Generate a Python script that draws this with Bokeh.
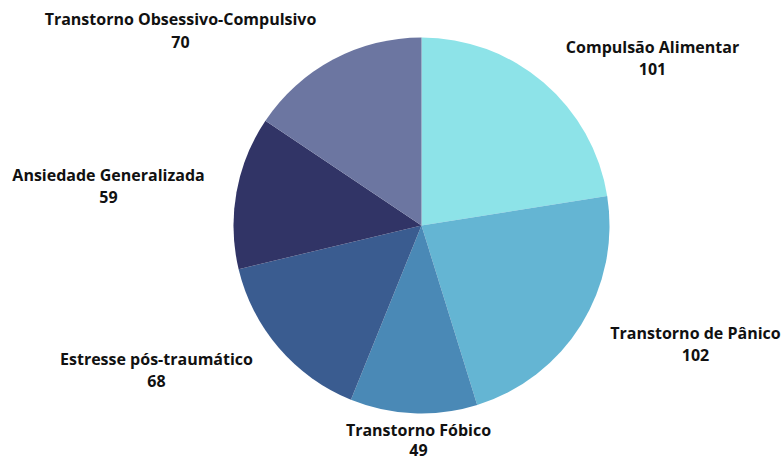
import math
from bokeh.plotting import figure
from bokeh.models import ColumnDataSource, Range1d
from bokeh.core.properties import value
from bokeh.embed import file_html
from bokeh.resources import INLINE

categories = ["Compulsão Alimentar", "Transtorno de Pânico", "Transtorno Fóbico",
              "Estresse pós-traumático", "Ansiedade Generalizada", "Transtorno Obsessivo-Compulsivo"]
counts = [101, 102, 49, 68, 59, 70]
colors = ["#8DE3E8", "#64B5D3", "#4A89B6", "#3A5C90", "#313466", "#6C76A1"]

W, H = 783, 463
cx, cy, r = 421, H - 225, 188

total = sum(counts)
starts, ends = [], []
acc = 0
for c in counts:
    starts.append(math.pi / 2 - acc / total * 2 * math.pi)
    acc += c
    ends.append(math.pi / 2 - acc / total * 2 * math.pi)

src = ColumnDataSource(dict(start=starts, end=ends, color=colors, cat=categories))

p = figure(width=W, height=H, output_backend="svg", toolbar_location=None,
           x_range=Range1d(0, W), y_range=Range1d(0, H), min_border=0)
p.axis.visible = False
p.grid.visible = False
p.outline_line_color = None
p.background_fill_color = "white"
p.border_fill_color = "white"

p.wedge(x=cx, y=cy, radius=r, start_angle="start", end_angle="end", direction="clock",
        fill_color="color", line_color=None, source=src)

# label positions (pixel centres, top-down)
lx = [652, 695, 418, 156, 108, 180]
ly = [46, 332, 429, 358, 174, 18]
gap = [22, 22, 20, 22, 22, 23]
names_src = ColumnDataSource(dict(x=lx, y=[H - v for v in ly], t=categories))
vals_src = ColumnDataSource(dict(x=lx, y=[H - v - g for v, g in zip(ly, gap)], t=[str(c) for c in counts]))
for s in (names_src, vals_src):
    p.text(x="x", y="y", text="t", source=s, text_align="center", text_baseline="middle",
           text_font=value("Open Sans"), text_font_style="bold", text_font_size="16px",
           text_color="#111111")

open("out.html", "w").write(file_html(p, INLINE))
